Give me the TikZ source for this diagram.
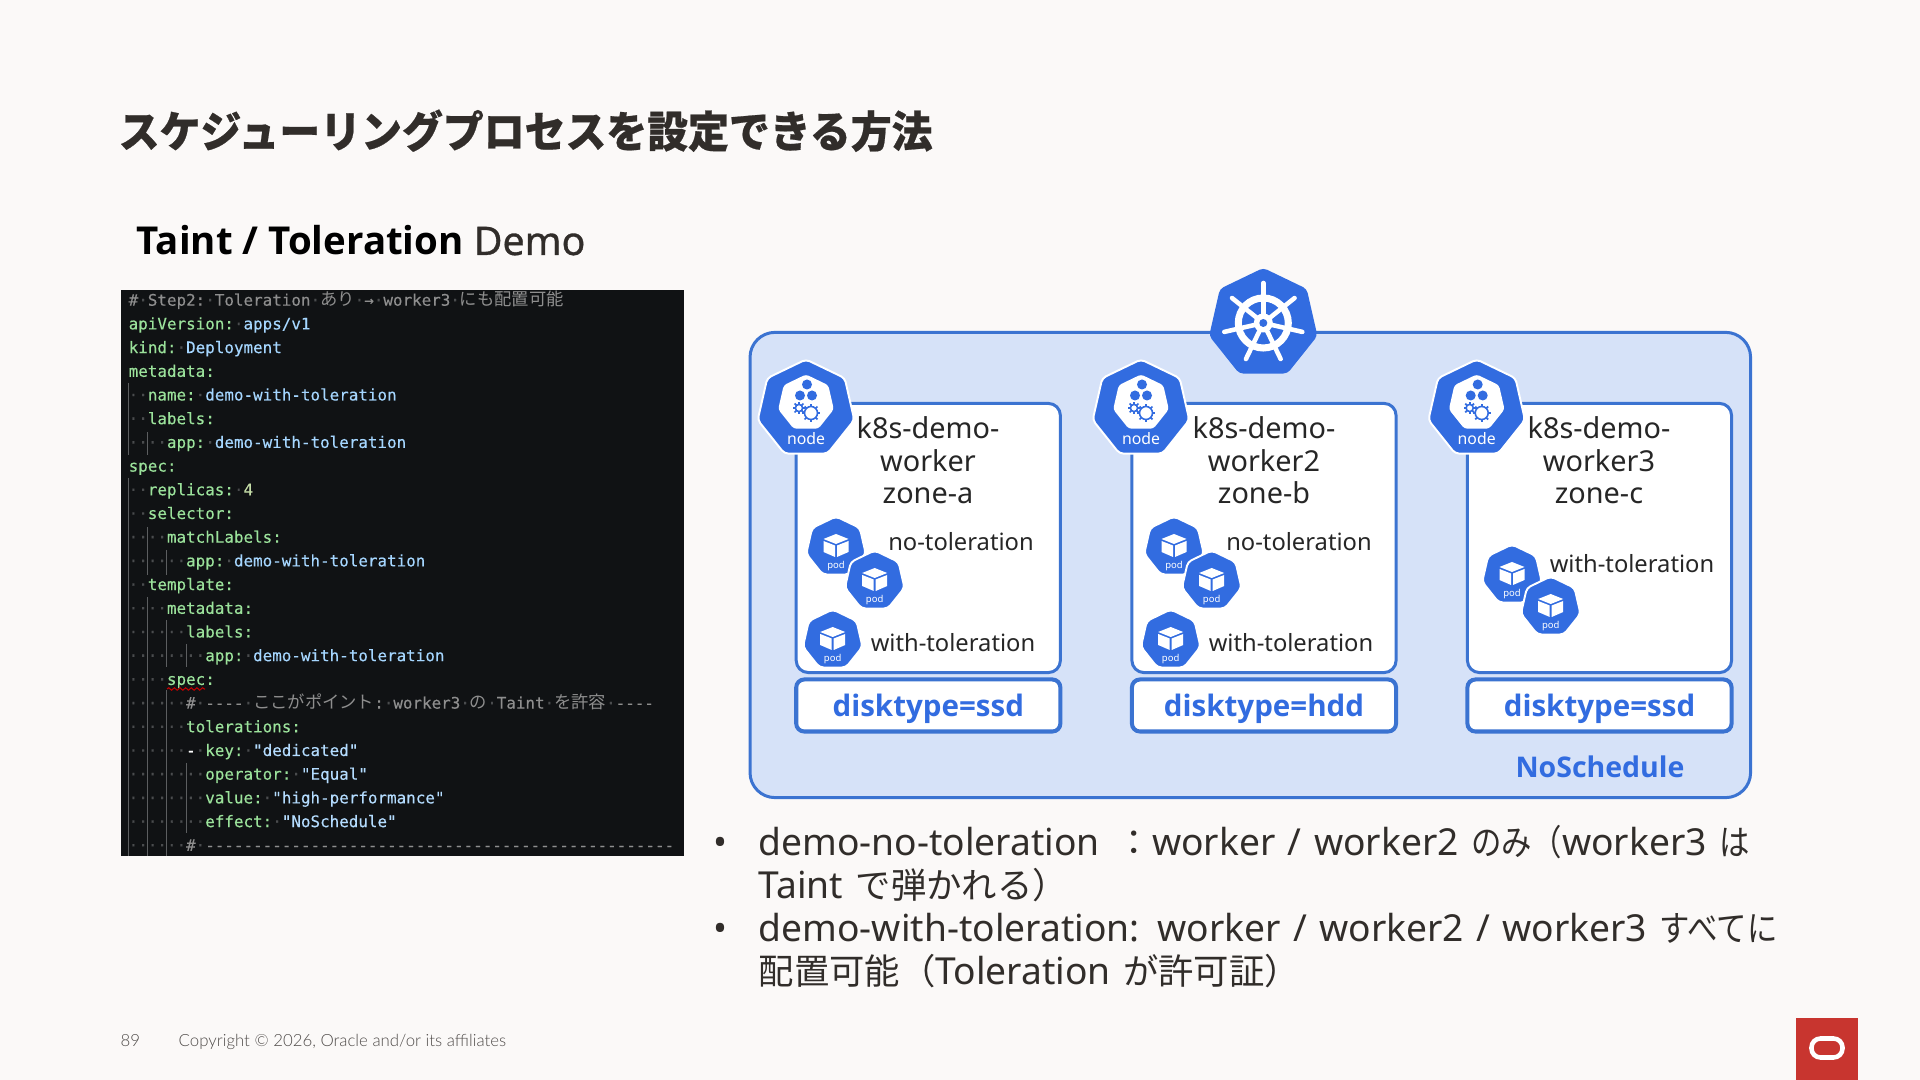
\documentclass[tikz,border=0pt]{standalone}
\usepackage{fontspec}
\usetikzlibrary{shapes.geometric,decorations.pathmorphing}
\setmainfont{Noto Sans}
\newfontfamily\cjk{Noto Sans CJK JP}
\newfontfamily\narrowcjk[FakeStretch=0.86]{Noto Sans CJK JP}
\newfontfamily\titlefont[FakeStretch=0.945,BoldFeatures={FakeBold=0.5}]{Noto Sans CJK JP}
\newfontfamily\codefont[FakeBold=0.25]{DejaVu Sans Mono}
\newfontfamily\semifont[FakeBold=0.8]{Noto Sans}
\newfontfamily\heavyfont{Open Sans}
\newfontfamily\bulletfont[WordSpace=1.28]{Noto Sans}
\newfontfamily\footfont{Lato Light}

\definecolor{pagebg}{HTML}{FBF9F8}
\definecolor{inkdark}{HTML}{312D2A}
\definecolor{kblue}{HTML}{326CE0}
\definecolor{kline}{HTML}{3B73D1}
\definecolor{kpanel}{HTML}{D6E2F8}
\definecolor{codebg}{HTML}{101214}
\definecolor{codekey}{HTML}{9BE29B}
\definecolor{codeval}{HTML}{A5D6FF}
\definecolor{codestr}{HTML}{B4DCFF}
\definecolor{codenum}{HTML}{C5DDA8}
\definecolor{codecom}{HTML}{8E8E8E}
\definecolor{codedot}{HTML}{4A4C4E}
\definecolor{oraclered}{HTML}{C8352F}

\newcommand{\ja}[1]{{\cjk\fontsize{10.05pt}{12pt}\selectfont #1}}
\newcommand{\jn}[1]{{\narrowcjk\fontsize{10.05pt}{12pt}\selectfont #1}}
\newcommand{\jc}[1]{{\cjk\fontsize{4.92pt}{6pt}\selectfont #1}}
\newcommand{\wsp}{\textcolor{codedot}{·}}
\newcommand{\ind}{\wsp\wsp}
\newcommand{\ck}[1]{\textcolor{codekey}{#1}}
\newcommand{\cv}[1]{\textcolor{codeval}{#1}}
\newcommand{\cq}[1]{\textcolor{codestr}{#1}}
\newcommand{\cc}[1]{\textcolor{codecom}{#1}}

\begin{document}
\begin{tikzpicture}[
  x=0.01cm, y=-0.01cm,
  titletext/.style={anchor=base west, inner sep=0pt, text=inkdark,
                    font=\titlefont\bfseries\fontsize{12.3pt}{14pt}\selectfont},
  subtext/.style={anchor=base west, inner sep=0pt, text=black,
                  font=\heavyfont\bfseries\fontsize{10.93pt}{12pt}\selectfont},
  codeline/.style={anchor=base west, inner sep=0pt,
                   font=\codefont\fontsize{4.52pt}{6pt}\selectfont},
  guide/.style={codedot!90!white, line width=0.2pt},
  panel/.style={draw=kline, fill=kpanel, line width=0.85pt, rounded corners=0.25cm,
                minimum width=10.0cm, minimum height=4.65cm, inner sep=0pt},
  workerbox/.style={draw=kline, fill=white, line width=0.85pt, rounded corners=0.12cm,
                    minimum width=2.64cm, minimum height=2.69cm, inner sep=0pt},
  diskbox/.style={draw=kline, fill=white, line width=1.15pt, rounded corners=0.08cm,
                  minimum width=2.64cm, minimum height=0.52cm, inner sep=0pt,
                  text height=0.22cm, text depth=0pt,
                  text=kblue, font=\heavyfont\bfseries\fontsize{8.4pt}{9pt}\selectfont},
  workertext/.style={align=center, inner sep=0pt, text=black!85,
                     font=\fontsize{8.2pt}{9.25pt}\selectfont},
  podtext/.style={inner sep=0pt, text=black!85, font=\fontsize{6.75pt}{8pt}\selectfont},
  heptagon/.style={regular polygon, regular polygon sides=7, draw=white, fill=kblue,
                   inner sep=0pt, line width=0.55pt, rounded corners=0.04cm},
  bullettext/.style={anchor=base west, inner sep=0pt, text=inkdark,
                     font=\bulletfont\fontsize{10.58pt}{12pt}\selectfont},
  foottext/.style={anchor=base west, inner sep=0pt, text=inkdark!85,
                   font=\footfont\fontsize{4.78pt}{6pt}\selectfont},
  nodeicon/.pic={
    \node[heptagon, minimum size=0.99cm] (hex) at (0,0) {};
    \node[regular polygon, regular polygon sides=7, fill=white, inner sep=0pt,
          minimum size=0.57cm, rounded corners=0.03cm] (core) at (0,-6) {};
    \foreach \cx/\cy in {1/-24.5,-6/-13.5,6/-13.5}
      \fill[kblue] (\cx,\cy) circle[radius=0.05cm];
    \foreach \gx/\gy/\gr in {5/4/6.5,-7/-1/3.6} {
      \draw[kblue, line width=0.45pt] (\gx,\gy) circle[radius=\gr*0.01cm];
      \foreach \a in {0,45,...,315}
        \draw[kblue, line width=0.5pt] (\gx,\gy) ++(\a:\gr) -- ++(\a:2.6);
    }
    \node[inner sep=0pt, text=white, font=\fontsize{4.5pt}{5pt}\selectfont]
      (tag) at (0,30) {node};
  },
  podicon/.pic={
    \node[heptagon, minimum size=0.61cm] (hex) at (0,0) {};
    \fill[white] (0,-13) -- (12.5,-8) -- (0,-3) -- (-12.5,-8) -- cycle;
    \fill[white] (-12.5,-6) -- (-1,-1.5) -- (-1,10) -- (-12.5,5) -- cycle;
    \fill[white] (12.5,-6) -- (1,-1.5) -- (1,10) -- (12.5,5) -- cycle;
    \node[inner sep=0pt, text=white, font=\fontsize{2.7pt}{3pt}\selectfont]
      (tag) at (0,19.5) {pod};
  },
]
  % Page
  \fill[pagebg] (0,0) rectangle (1920,1080);
  \useasboundingbox (0,0) rectangle (1920,1080);

  % Headings
  \node[titletext] (title) at (118,147.5) {スケジューリングプロセスを設定できる方法};
  \node[subtext] (subtitle) at (136,255) {Taint / Toleration {\semifont\mdseries\color{inkdark}\fontsize{11.2pt}{12pt}\selectfont Demo}};

  % Code panel
  \fill[codebg] (121,290) rectangle (684,856);
  \foreach \gx/\ga/\gb in {128/383/455, 128/478/856, 147.5/432/455, 147.5/527/575,
      147.5/597/856, 166.6/550/575, 166.6/620/667, 166.6/690/856, 186.5/644/667, 186.5/763/833}
    \draw[guide] (\gx,\ga) -- (\gx,\gb);
  \foreach \n/\txt in {
    1/{\cc{\#\wsp Step2:\wsp Toleration\wsp\jc{あり}\wsp→\wsp worker3\wsp\jc{にも配置可能}}},
    2/{\ck{apiVersion:}\wsp\cv{apps/v1}},
    3/{\ck{kind:}\wsp\cv{Deployment}},
    4/{\ck{metadata:}},
    5/{\ind\ck{name:}\wsp\cv{demo-with-toleration}},
    6/{\ind\ck{labels:}},
    7/{\ind\ind\ck{app:}\wsp\cv{demo-with-toleration}},
    8/{\ck{spec:}},
    9/{\ind\ck{replicas:}\wsp\textcolor{codenum}{4}},
    10/{\ind\ck{selector:}},
    11/{\ind\ind\ck{matchLabels:}},
    12/{\ind\ind\ind\ck{app:}\wsp\cv{demo-with-toleration}},
    13/{\ind\ck{template:}},
    14/{\ind\ind\ck{metadata:}},
    15/{\ind\ind\ind\ck{labels:}},
    16/{\ind\ind\ind\ind\ck{app:}\wsp\cv{demo-with-toleration}},
    17/{\ind\ind\ck{spec:}},
    18/{\ind\ind\ind\cc{\#\wsp ----\wsp\jc{ここがポイント}:\wsp worker3\wsp\jc{の}\wsp Taint\wsp\jc{を許容}\wsp ----}},
    19/{\ind\ind\ind\ck{tolerations:}},
    20/{\ind\ind\ind\textcolor{white}{-}\wsp\ck{key:}\wsp\cq{"dedicated"}},
    21/{\ind\ind\ind\ind\ck{operator:}\wsp\cq{"Equal"}},
    22/{\ind\ind\ind\ind\ck{value:}\wsp\cq{"high-performance"}},
    23/{\ind\ind\ind\ind\ck{effect:}\wsp\cq{"NoSchedule"}},
    24/{\ind\ind\ind\cc{\#\wsp -------------------------------------------------}}}
    \node[codeline] (line\n) at (128,{305.7+23.7*(\n-1)}) {\txt};
  \draw[red!75!black, line width=0.3pt, decorate,
        decoration={snake, amplitude=0.35pt, segment length=1.6pt}] (167,689) -- (205,689);

  % Cluster panel
  \node[panel] (cluster) at (1250.3,565) {};
  \node[heptagon, draw=none, minimum size=1.11cm] (logo) at (1263.3,323.5) {};
  \draw[white, line width=2pt] (1263.3,323) circle[radius=0.25cm];
  \foreach \a in {0,...,6}
    \draw[white, line width=1.3pt, line cap=round] (1263.3,323) -- ++({-90+\a*360/7}:40);
  \fill[white] (1263.3,323) circle[radius=0.095cm];
  \fill[kblue] (1263.3,323) circle[radius=0.04cm];

  % Worker boxes
  \node[workerbox] (worker1) at (928.3,538) {};
  \node[workerbox] (worker2) at (1264,538) {};
  \node[workerbox] (worker3) at (1599.5,538) {};
  \node[diskbox] (disk1) at (928.3,705.5) {disktype=ssd};
  \node[diskbox] (disk2) at (1264,705.5) {disktype=hdd};
  \node[diskbox] (disk3) at (1599.5,705.5) {disktype=ssd};
  \node[text=kblue, inner sep=0pt, font=\heavyfont\bfseries\fontsize{8.1pt}{9pt}\selectfont]
    (taint) at (1600,767) {NoSchedule};

  % Node icons and labels
  \pic (icon1) at (806,409) {nodeicon};
  \pic (icon2) at (1141,409) {nodeicon};
  \pic (icon3) at (1476.7,409) {nodeicon};
  \node[workertext] (label1) at (928,460.5) {k8s-demo-\\worker\\zone-a};
  \node[workertext] (label2) at (1264,460.5) {k8s-demo-\\worker2\\zone-b};
  \node[workertext] (label3) at (1599,460.5) {k8s-demo-\\worker3\\zone-c};

  % Pods
  \pic (pod1a) at (836,547) {podicon};
  \pic (pod1b) at (874.7,581) {podicon};
  \pic (pod1c) at (832.7,640) {podicon};
  \pic (pod2a) at (1174,547) {podicon};
  \pic (pod2b) at (1211.7,581) {podicon};
  \pic (pod2c) at (1170.7,640) {podicon};
  \pic (pod3a) at (1512,575) {podicon};
  \pic (pod3b) at (1550.7,607) {podicon};
  \node[podtext] (no1) at (961,542) {no-toleration};
  \node[podtext] (with1) at (953,643) {with-toleration};
  \node[podtext] (no2) at (1299,542) {no-toleration};
  \node[podtext] (with2) at (1291,643) {with-toleration};
  \node[podtext] (with3) at (1632,564) {with-toleration};

  % Bullets
  \node[bullettext] (dot1) at (713,856) {•};
  \node[bullettext] (dot2) at (713,942) {•};
  \node[bullettext] (item1a) at (758,856) {demo-no-toleration\hspace{4.8pt}\ja{：}worker / worker2 \jn{のみ（}worker3 \jn{は}};
  \node[bullettext] (item1b) at (758,899) {Taint \ja{で弾かれる）}};
  \node[bullettext] (item2a) at (758,942) {demo-with-toleration:\hspace{0.6pt} worker / worker2 / worker3 \jn{すべてに}};
  \node[bullettext] (item2b) at (758,985) {\ja{配置可能（}Toleration \ja{が許可証）}};

  % Footer
  \node[foottext] (pageno) at (120,1047) {89};
  \node[foottext] (copyright) at (178,1047) {Copyright © 2026, Oracle and/or its affiliates};
  \fill[oraclered] (1796,1018) rectangle (1858,1080);
  \node[draw=white, line width=1.3pt, rounded corners=0.09cm, inner sep=0pt,
        minimum width=0.31cm, minimum height=0.19cm] (oval) at (1827,1048) {};
\end{tikzpicture}
\end{document}
